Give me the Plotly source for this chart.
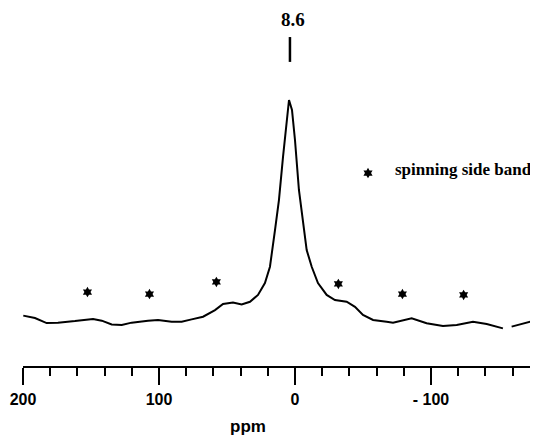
import plotly.graph_objects as go

# Spectrum trace (ppm, intensity)
ppm = [199.8, 191.2, 182.6, 174.3, 161.8, 148.5, 142.1, 134.8, 127.4, 120.1, 108.1,
       100.7, 90.7, 83.3, 76.0, 67.6, 58.8, 52.9, 45.6, 39.2, 33.1, 27.2, 22.1, 18.4,
       14.7, 11.8, 8.8, 5.9, 4.4, 2.2, 0.0, -2.9, -5.9, -8.6, -12.3, -16.9, -23.3,
       -29.4, -38.0, -44.1, -50.0, -57.4, -67.4, -72.1, -85.8, -96.8, -108.8, -118.9,
       -130.9, -141.0, -152.9, None, -159.3, -167.6, -177.7]
intensity = [2.0, 0.9, -1.4, -1.2, -0.5, 0.5, -0.3, -2.0, -2.3, -1.2, -0.3,
             0.0, -0.8, -0.8, 0.3, 1.5, 4.5, 7.3, 8.0, 7.1, 8.3, 11.4, 16.8, 24.2,
             40.9, 54.5, 74.1, 92.3, 100.0, 95.5, 81.8, 59.1, 44.1, 31.8, 24.2, 16.8, 11.4,
             9.1, 8.3, 6.0, 2.3, 0.0, -0.8, -1.2, 0.8, -1.5, -2.7, -2.3,
             -0.8, -1.8, -3.8, None, -3.0, -1.5, 0.0]

# Spinning side band markers
ssb_ppm = [152.6, 107.0, 57.8, -31.9, -79.0, -124.0]
ssb_int = [12.7, 11.8, 17.3, 16.4, 11.8, 11.4]

tick_vals = [200, 100, 0, -100]
tick_text = ["200", "100", "0", "- 100"]

peak_label = "8.6"
peak_pos = 3.7
legend_text = "spinning side band"

fig = go.Figure()
fig.add_trace(go.Scatter(x=ppm, y=intensity, mode="lines",
                         line=dict(color="black", width=2), connectgaps=False,
                         hoverinfo="skip"))
fig.add_trace(go.Scatter(x=ssb_ppm, y=ssb_int, mode="markers",
                         marker=dict(symbol="hexagram", size=8, color="black"),
                         hoverinfo="skip"))
# legend marker
fig.add_trace(go.Scatter(x=[-53.7], y=[66.8], mode="markers",
                         marker=dict(symbol="hexagram", size=8, color="black"),
                         hoverinfo="skip"))

fig.add_annotation(x=-72, y=68.2, xref="x", yref="y", text=legend_text,
                   showarrow=False, xanchor="left", yanchor="middle",
                   font=dict(family="Liberation Serif", size=17, color="black", weight="bold"))
fig.add_annotation(x=1.5, y=1.0, xref="x", yref="paper", text=peak_label,
                   showarrow=False, xanchor="center", yanchor="top", borderpad=0,
                   font=dict(family="Liberation Serif", size=19, color="black", weight="bold"))
fig.add_shape(type="line", x0=peak_pos, x1=peak_pos, y0=117.3, y1=128.6,
              xref="x", yref="y", line=dict(color="black", width=2.5))
fig.add_annotation(x=34.6, y=-0.1676, xref="x", yref="paper", text="ppm",
                   showarrow=False, xanchor="center", yanchor="middle",
                   font=dict(family="Liberation Sans", size=17, color="black", weight="bold"))

fig.update_layout(
    width=530, height=427,
    margin=dict(l=15, r=0, t=0, b=69),
    paper_bgcolor="white", plot_bgcolor="white",
    showlegend=False,
    xaxis=dict(range=[200, -178.7], showgrid=False, zeroline=False,
               showline=True, linecolor="black", linewidth=2,
               ticks="outside", ticklen=17, tickwidth=2, tickcolor="black",
               tickvals=tick_vals, ticktext=tick_text, ticklabelstandoff=1,
               tickfont=dict(family="Liberation Sans", size=16, color="black", weight="bold"),
               minor=dict(dtick=20, tick0=0, ticks="outside", ticklen=8, tickwidth=2,
                          tickcolor="black", showgrid=False)),
    yaxis=dict(range=[-20.9, 141.8], visible=False, showgrid=False, zeroline=False),
)

fig.write_html("out.html")
